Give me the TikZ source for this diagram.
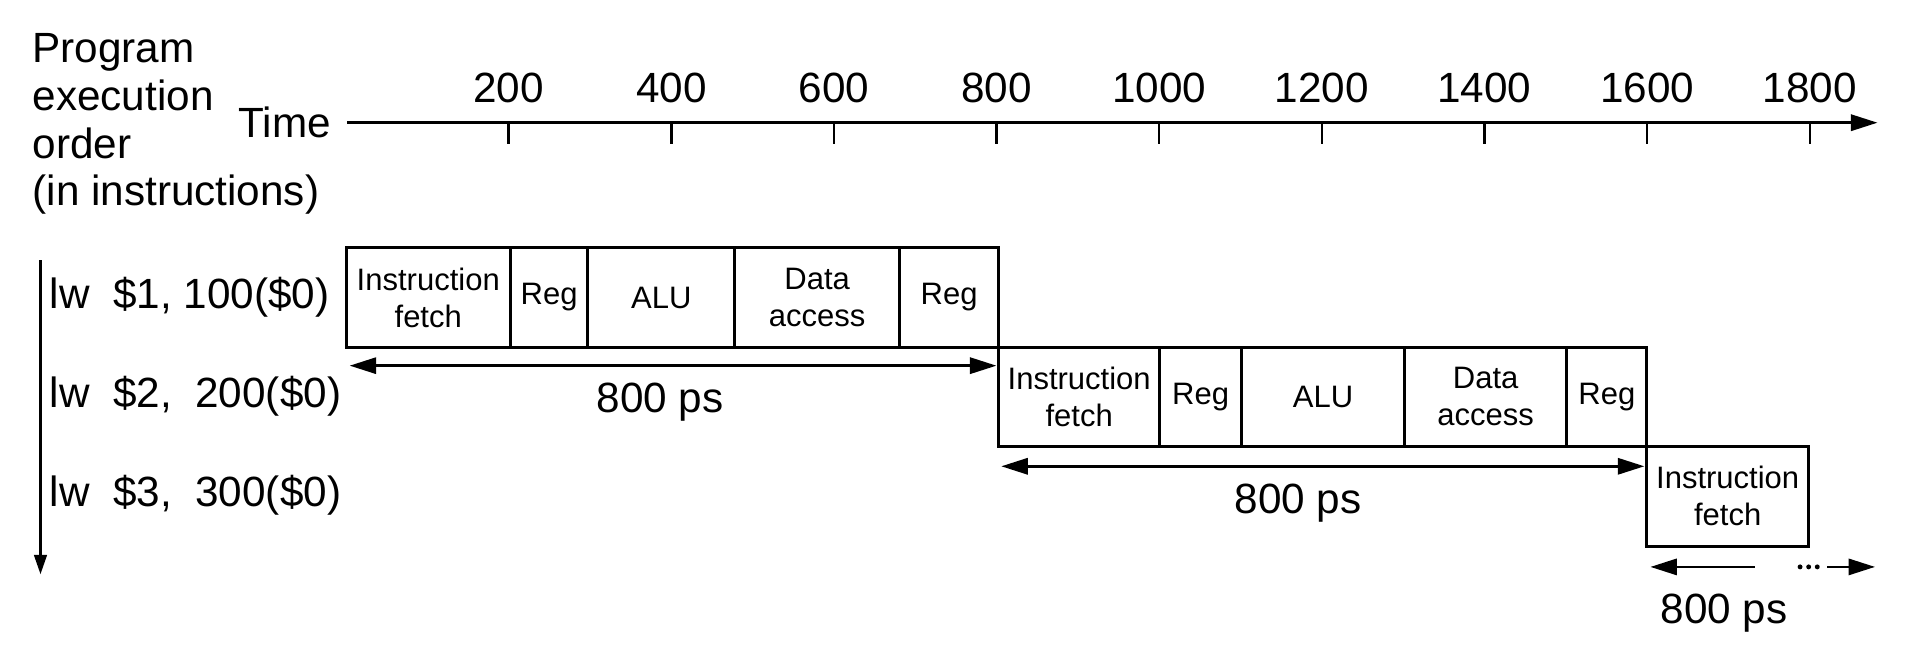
\documentclass[tikz,border=0pt]{standalone}
\usepackage{fontspec}
\setmainfont{Liberation Sans}
\usepackage{tikz}
\usetikzlibrary{arrows.meta,shapes}

\begin{document}
\begin{tikzpicture}[scale=0.347,
  >={Triangle[length=7.5bp,width=4.6bp]},
  stage/.style={draw,line width=0.85pt,inner sep=0pt,minimum height=28.1bp,align=center,font=\fontsize{8.8}{10.5}\selectfont},
  lbl/.style={inner sep=0pt,font=\fontsize{12}{13.5}\selectfont},
  dotmark/.style={circle,fill,inner sep=0pt,minimum size=1.4pt}]
\useasboundingbox (0bp,0bp) rectangle (1568bp,-539bp);
% header and time axis
\node (order) at (26bp,-27bp)[lbl,anchor=north west,align=left] {Program\\execution\\order\\(in instructions)};
\node (time) at (232bp,-100bp)[lbl] {Time};
\coordinate (t0) at (283bp,-100bp);
\coordinate (tend) at (1530bp,-100bp);
\draw [->,line width=0.7pt] (t0) -- (tend);
\foreach \t [evaluate=\t as \kx using 282+0.6627*\t] in {200,400,...,1800} {
  \coordinate (k\t) at (\kx bp,-100bp);
  \draw [line width=0.7pt] (k\t) -- ++(0bp,-17bp);
  \node (t\t) at (\kx bp,-72bp)[lbl] {\t};
}
\coordinate (otop) at (33bp,-212bp);
\coordinate (obot) at (33bp,-468bp);
\draw [-{Triangle[length=5.5bp,width=3.6bp]},line width=0.7pt] (otop) -- (obot);
% lw $1
\node (ins1) at (40bp,-242bp)[lbl,anchor=west] {lw\ \ \$1, 100(\$0)};
\node (IF1) at (349bp,-242.5bp)[stage,minimum width=46.5bp] {Instruction\\fetch};
\node (RegA1) at (447.5bp,-242.5bp)[stage,minimum width=21.9bp] {Reg};
\node (ALU1) at (539bp,-242.5bp)[stage,minimum width=41.6bp] {ALU};
\node (DA1) at (666bp,-242.5bp)[stage,minimum width=46.5bp] {Data\\access};
\node (RegB1) at (773.5bp,-242.5bp)[stage,minimum width=28.1bp] {Reg};
\coordinate (d1l) at (285bp,-298bp);
\coordinate (d1r) at (812bp,-298bp);
\draw [<->,line width=0.7pt] (d1l) -- (d1r);
\node (p1) at (538bp,-328bp)[lbl] {800 ps};
% lw $2
\node (ins2) at (40bp,-323bp)[lbl,anchor=west] {lw\ \ \$2,\ \ 200(\$0)};
\node (IF2) at (879.5bp,-323.5bp)[stage,minimum width=45.5bp] {Instruction\\fetch};
\node (RegA2) at (978.5bp,-323.5bp)[stage,minimum width=23.25bp] {Reg};
\node (ALU2) at (1078.25bp,-323.5bp)[stage,minimum width=46bp] {ALU};
\node (DA2) at (1210.75bp,-323.5bp)[stage,minimum width=46bp] {Data\\access};
\node (RegB2) at (1309.5bp,-323.5bp)[stage,minimum width=22.55bp] {Reg};
\coordinate (d2l) at (816bp,-380bp);
\coordinate (d2r) at (1340bp,-380bp);
\draw [<->,line width=0.7pt] (d2l) -- (d2r);
\node (p2) at (1058bp,-410bp)[lbl] {800 ps};
% lw $3
\node (ins3) at (40bp,-404bp)[lbl,anchor=west] {lw\ \ \$3,\ \ 300(\$0)};
\node (IF3) at (1408bp,-404.5bp)[stage,minimum width=45.8bp] {Instruction\\fetch};
\coordinate (d3l) at (1345bp,-462bp);
\coordinate (d3m) at (1430bp,-462bp);
\coordinate (d3r) at (1528bp,-462bp);
\draw [<-,line width=0.7pt] (d3l) -- (d3m);
\foreach \x [count=\i] in {1467,1474,1481}
  \node (dot\i) at (\x bp,-462bp)[dotmark] {};
\draw [->,line width=0.7pt] (dot3) ++(8bp,0bp) -- (d3r);
\node (p3) at (1405bp,-500bp)[lbl] {800 ps};
\end{tikzpicture}
\end{document}
